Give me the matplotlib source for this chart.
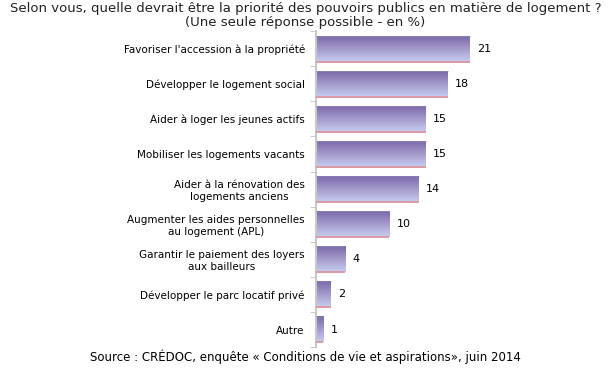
import matplotlib
matplotlib.use("Agg")
import matplotlib.pyplot as plt
import numpy as np
from matplotlib.colors import LinearSegmentedColormap

categories = [
    "Favoriser l'accession à la propriété",
    "Développer le logement social",
    "Aider à loger les jeunes actifs",
    "Mobiliser les logements vacants",
    "Aider à la rénovation des\nlogements anciens",
    "Augmenter les aides personnelles\nau logement (APL)",
    "Garantir le paiement des loyers\naux bailleurs",
    "Développer le parc locatif privé",
    "Autre",
]
values = [21, 18, 15, 15, 14, 10, 4, 2, 1]

title = "Selon vous, quelle devrait être la priorité des pouvoirs publics en matière de logement ?\n(Une seule réponse possible - en %)"
source = "Source : CRÉDOC, enquête « Conditions de vie et aspirations», juin 2014"

fig = plt.figure(figsize=(6.11, 3.70), dpi=100)
ax = fig.add_axes([0.517, 0.062, 0.336, 0.854])

y = np.arange(len(categories))
bars = ax.barh(y, values, height=0.74, color="none", edgecolor="none")

cmap = LinearSegmentedColormap.from_list("g", ["#7c69aa", "#a59bcc", "#c6cdf0"])
grad = np.linspace(0, 1, 64).reshape(-1, 1)
for b, v in zip(bars, values):
    x0, y0, w, h = b.get_x(), b.get_y(), b.get_width(), b.get_height()
    ax.imshow(grad, cmap=cmap, aspect="auto", extent=(x0, x0 + w, y0 + h, y0),
              origin="upper", zorder=2, interpolation="bilinear")
    ax.plot([x0, x0 + w], [y0 + h, y0 + h], color="#dc9aa4", lw=1.4, zorder=3,
            solid_capstyle="butt")
    ax.plot([x0, x0 + w], [y0, y0], color="#8c82b8", lw=0.6, zorder=3,
            solid_capstyle="butt")
    ax.text(x0 + w + 1.0, y0 + h / 2, str(v), va="center", ha="left",
            fontsize=8, color="#000000")

ax.set_xlim(0, 28)
ax.set_ylim(len(categories) - 0.5, -0.5)

for s in ["top", "right", "bottom"]:
    ax.spines[s].set_visible(False)
ax.spines["left"].set_color("#c8c8c8")
ax.spines["left"].set_linewidth(1.5)
ax.set_xticks([])
ax.set_yticks(y)
ax.set_yticklabels(categories, fontsize=7.5, multialignment="center")
ax.tick_params(axis="y", which="major", length=0, pad=8)
ax.set_yticks(np.arange(-0.5, len(categories), 1), minor=True)
ax.tick_params(axis="y", which="minor", length=4, color="#c0c0c0")

fig.text(0.5, 0.995, title, ha="center", va="top", fontsize=9.5, linespacing=1.15,
         color="#222222")
fig.text(0.5, 0.015, source, ha="center", va="bottom", fontsize=8.5)

fig.savefig("out.png", dpi=100)
